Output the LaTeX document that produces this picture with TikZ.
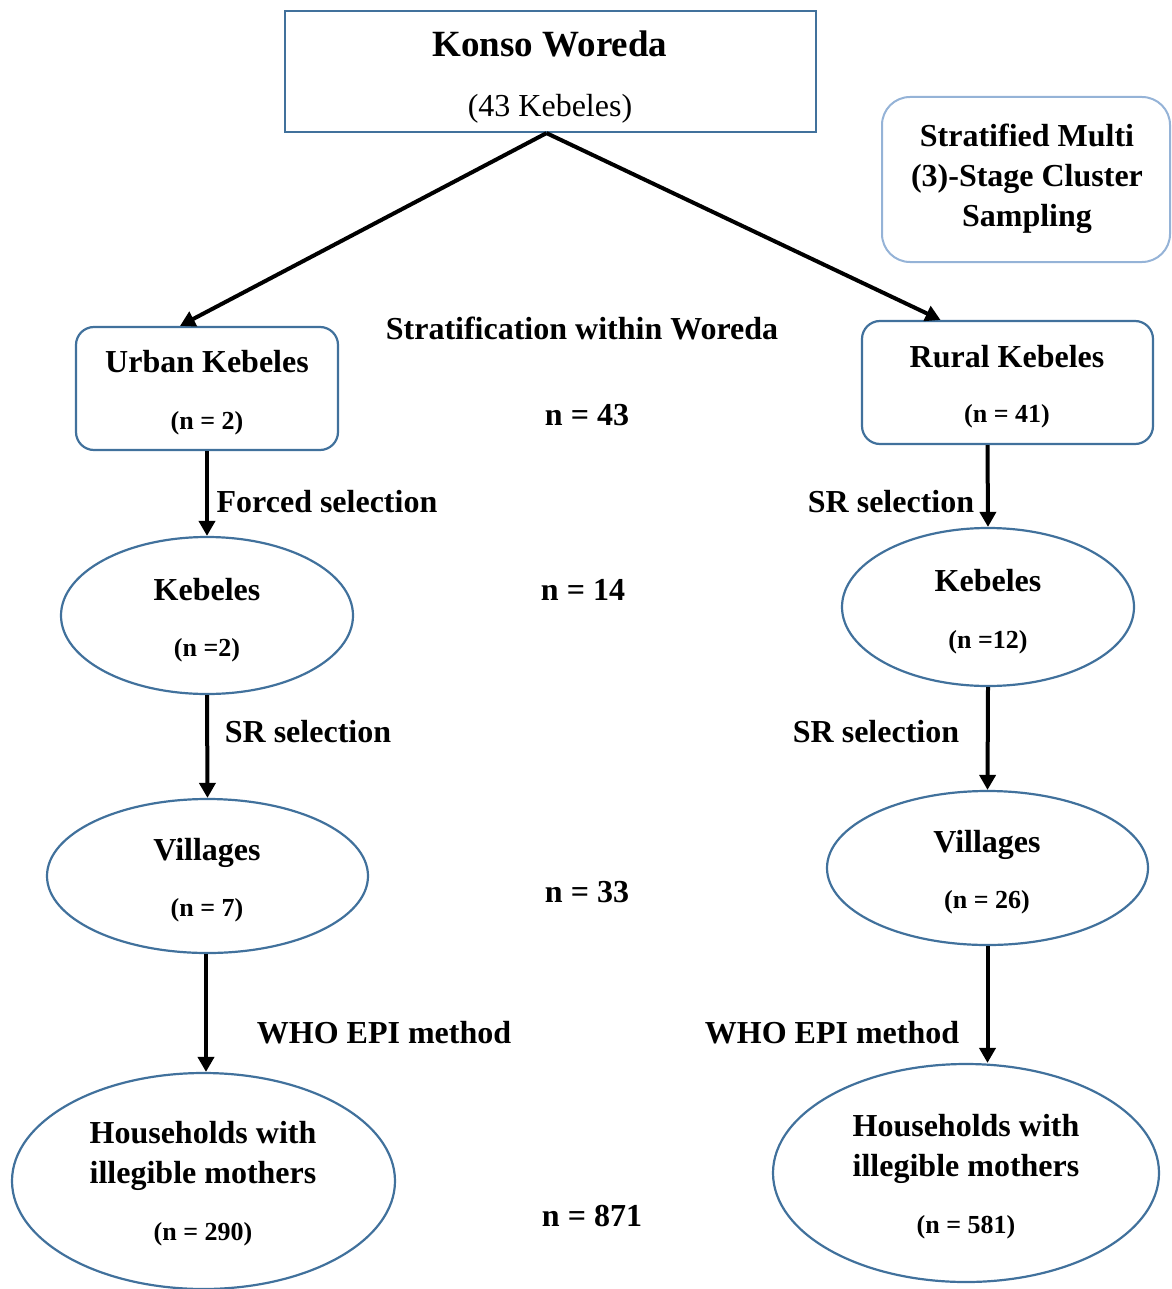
\documentclass[tikz,border=0pt]{standalone}
\usepackage{fontspec}
\setmainfont{Liberation Serif}
\usetikzlibrary{shapes.geometric,arrows.meta}
\definecolor{edgeblue}{RGB}{65,113,156}
\definecolor{softblue}{RGB}{149,179,215}
\tikzset{
	txt/.style={font=\fontsize{32}{40}\selectfont\bfseries},
	ntxt/.style={font=\fontsize{26}{30}\selectfont\bfseries},
	sqbox/.style={draw=edgeblue,line width=2.2pt,inner sep=0pt},
	rbox/.style={draw=edgeblue,line width=2.2pt,rounded corners=18pt,inner sep=0pt},
	oval/.style={draw=edgeblue,ellipse,line width=2.2pt,inner sep=0pt},
	arr/.style={-{Triangle[width=16pt,length=15pt]},line width=4pt}
}
\begin{document}
\begin{tikzpicture}[x=1pt,y=-1pt]
				\useasboundingbox (0,0) rectangle (1171,1289);

				\node[sqbox,minimum width=531pt,minimum height=121pt] (konso) at (550.5,71.5) {};
				\node[font=\fontsize{37}{42}\selectfont\bfseries] (konsoT) at (550,44) {Konso Woreda};
				\node[font=\fontsize{32}{38}\selectfont] (konsoN) at (550,109) {(43 Kebeles)};

				\node[draw=softblue,line width=2pt,rounded corners=28pt,minimum width=288pt,minimum height=165pt] (method) at (1026,179.5) {};
				\node[txt,align=center] (methodT) at (1027,179) {Stratified Multi\\(3)-Stage Cluster\\Sampling};

				\node[rbox,minimum width=262pt,minimum height=123pt] (urban) at (207,388.5) {};
				\node[txt] (urbanT) at (207,362) {Urban Kebeles};
				\node[ntxt] (urbanN) at (207,423) {(n = 2)};

				\node[rbox,minimum width=291pt,minimum height=123pt] (rural) at (1007.5,382.5) {};
				\node[txt] (ruralT) at (1007,357) {Rural Kebeles};
				\node[ntxt] (ruralN) at (1007,416) {(n = 41)};

				\node[oval,minimum width=292pt,minimum height=157pt] (kebL) at (207,615.5) {};
				\node[txt] (kebLT) at (207,590) {Kebeles};
				\node[ntxt] (kebLN) at (207,650) {(n =2)};

				\node[oval,minimum width=292pt,minimum height=158pt] (kebR) at (988,607) {};
				\node[txt] (kebRT) at (988,581) {Kebeles};
				\node[ntxt] (kebRN) at (988,642) {(n =12)};

				\node[oval,minimum width=321pt,minimum height=154pt] (vilL) at (207.5,876) {};
				\node[txt] (vilLT) at (207,853) {Villages};
				\node[ntxt] (vilLN) at (207,910) {(n = 7)};

				\node[oval,minimum width=321pt,minimum height=154pt] (vilR) at (987.5,868) {};
				\node[txt] (vilRT) at (987,845) {Villages};
				\node[ntxt] (vilRN) at (987,902) {(n = 26)};

				\node[oval,minimum width=383pt,minimum height=216pt] (hhL) at (203.5,1181) {};
				\node[txt,align=center] (hhLT) at (203,1156) {Households with\\illegible mothers};
				\node[ntxt] (hhLN) at (203,1234) {(n = 290)};

				\node[oval,minimum width=386pt,minimum height=218pt] (hhR) at (966,1173) {};
				\node[txt,align=center] (hhRT) at (966,1149) {Households with\\illegible mothers};
				\node[ntxt] (hhRN) at (966,1227) {(n = 581)};

				\node[txt] (strat) at (582,328) {Stratification within Woreda};
				\node[txt] (n43) at (587,415) {n = 43};
				\node[txt] (n14) at (583,590) {n = 14};
				\node[txt] (n33) at (587,892) {n = 33};
				\node[txt] (n871) at (592,1216) {n = 871};

				\node[txt] (forced) at (327,502) {Forced selection};
				\node[txt] (srR1) at (891,502) {SR selection};
				\node[txt] (srL2) at (308,732) {SR selection};
				\node[txt] (srR2) at (876,732) {SR selection};
				\node[txt] (whoL) at (384,1033) {WHO EPI method};
				\node[txt] (whoR) at (832,1033) {WHO EPI method};

				\draw[arr] ([xshift=-4pt]konso.south) -- ([xshift=-27pt]urban.north);
				\draw[arr] ([xshift=-4pt]konso.south) -- ([xshift=-67pt]rural.north);
				\draw[arr] (urban.south) -- (kebL.north);
				\draw[arr] ([xshift=-20pt]rural.south) -- (kebR.north);
				\draw[arr] (kebL.south) -- (vilL.north);
				\draw[arr] (kebR.south) -- (vilR.north);
				\draw[arr] ([xshift=-1.5pt]vilL.south) -- ([xshift=-1.5pt]vilL.south |- hhL.north);
				\draw[arr] (vilR.south) -- (vilR.south |- hhR.north);

\end{tikzpicture}
\end{document}
